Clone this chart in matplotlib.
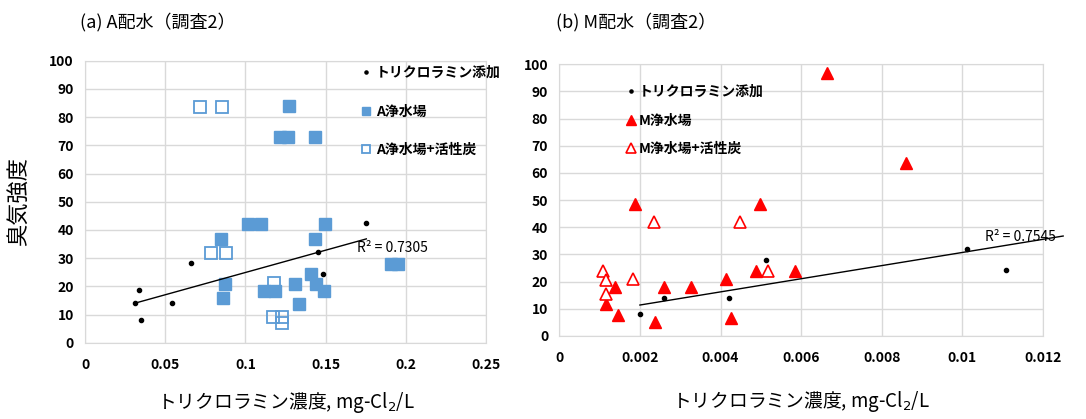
import numpy as np
import matplotlib
matplotlib.use("Agg")
from matplotlib import pyplot as plt

plt.rcParams['font.family'] = ['Noto Sans CJK JP', 'DejaVu Sans']

# (a) A配水 -- トリクロラミン濃度 / 臭気強度
a_add_x = [0.031, 0.0337, 0.0349, 0.054, 0.0663, 0.145, 0.1484, 0.1754]
a_add_y = [14.0, 18.6, 8.0, 14.0, 28.2, 32.0, 24.4, 42.4]
a_plant_x = [0.1274, 0.1216, 0.1264, 0.1432, 0.1014, 0.1097, 0.1498, 0.0848, 0.1432,
             0.1908, 0.195, 0.0875, 0.086, 0.1116, 0.1185, 0.1311, 0.1411, 0.1439,
             0.1492, 0.1336]
a_plant_y = [84.0, 73.0, 73.0, 73.0, 42.2, 42.2, 42.2, 36.7, 36.7,
             27.9, 27.9, 20.7, 15.7, 18.3, 18.3, 20.7, 24.2, 20.7,
             18.3, 13.7]
a_gac_x = [0.0719, 0.0856, 0.0788, 0.0877, 0.118, 0.1174, 0.1228, 0.1228]
a_gac_y = [83.7, 83.7, 31.7, 31.7, 21.1, 9.2, 9.2, 6.9]
a_trend = (158.0, 9.1)      # slope, intercept
a_trend_x = [0.031, 0.1754]
a_r2 = 0.7305

# (b) M配水
m_add_x = [0.002, 0.0026, 0.0042, 0.00514, 0.01012, 0.01107]
m_add_y = [8.1, 14.0, 14.0, 28.0, 31.9, 24.4]
m_plant_x = [0.00664, 0.00861, 0.00188, 0.00499, 0.00137, 0.00117, 0.00145,
             0.00237, 0.0026, 0.00326, 0.00414, 0.00426, 0.00489, 0.00584]
m_plant_y = [96.7, 63.6, 48.5, 48.5, 18.2, 11.8, 7.7,
             5.3, 18.2, 18.2, 20.9, 6.5, 24.0, 24.0]
m_gac_x = [0.00236, 0.00449, 0.00108, 0.00115, 0.00117, 0.00184, 0.00519]
m_gac_y = [42.1, 42.1, 24.0, 20.6, 15.3, 20.9, 24.0]
m_trend = (2419.0, 6.56)
m_trend_x = [0.002, 0.0125]
m_r2 = 0.7545

blue = '#5b9bd5'
red = '#ff0000'
grid = '#d9d9d9'

fig = plt.figure(figsize=(10.86, 4.19), dpi=100)
ax1 = fig.add_axes([0.0783, 0.1821, 0.3692, 0.673])
ax2 = fig.add_axes([0.515, 0.1981, 0.4454, 0.6484])


def style(ax, xmax, xstep, xticks_fmt):
    ax.set_ylim(0, 100)
    ax.set_xlim(0, xmax)
    ax.set_yticks(np.arange(0, 101, 10))
    xt = np.arange(0, xmax + xstep / 2, xstep)
    ax.set_xticks(xt)
    ax.set_xticklabels([xticks_fmt(v) for v in xt])
    ax.grid(True, color=grid, lw=1)
    ax.set_axisbelow(True)
    for s in ax.spines.values():
        s.set_color(grid)
    ax.tick_params(axis='x', length=0, labelsize=10, pad=11)
    ax.tick_params(axis='y', length=0, labelsize=10, pad=8)
    for lab in ax.get_xticklabels() + ax.get_yticklabels():
        lab.set_fontweight('bold')


def fmt(v):
    return '0' if v == 0 else ('%g' % round(v, 4))


# (a)
ax1.plot(a_add_x, a_add_y, 'o', color='black', ms=3, label='トリクロラミン添加', zorder=4)
ax1.plot(a_plant_x, a_plant_y, 's', color=blue, ms=8.5, label='A浄水場', zorder=3)
ax1.plot(a_gac_x, a_gac_y, 's', mfc='none', mec=blue, mew=1.3, ms=8.5,
         label='A浄水場+活性炭', zorder=3)
tx = np.array(a_trend_x)
ax1.plot(tx, a_trend[0] * tx + a_trend[1], color='black', lw=1, zorder=5)
ax1.text(0.1695, 33.5, 'R² = %.4f' % a_r2, fontsize=10, va='center', ha='left')
style(ax1, 0.25, 0.05, fmt)
ax1.set_xlabel('トリクロラミン濃度, mg-Cl$_2$/L', fontsize=13.5, labelpad=13)
ax1.set_ylabel('臭気強度', fontsize=16, labelpad=14)
fig.text(80 / 1086, 1 - 22 / 419, '(a) A配水（調査2）', fontsize=13, va='center')
ax1.legend(loc='upper left', bbox_to_anchor=(0.66, 1.025), frameon=False,
           handlelength=0.6, handletextpad=0.4, labelspacing=1.75, markerscale=0.75,
           prop={'size': 10, 'weight': 'bold'})

# (b)
ax2.plot(m_add_x, m_add_y, 'o', color='black', ms=3, label='トリクロラミン添加', zorder=4)
ax2.plot(m_plant_x, m_plant_y, '^', color=red, ms=9, label='M浄水場', zorder=3)
ax2.plot(m_gac_x, m_gac_y, '^', mfc='white', mec=red, mew=1.2, ms=9,
         label='M浄水場+活性炭', zorder=3)
tx = np.array(m_trend_x)
ax2.plot(tx, m_trend[0] * tx + m_trend[1], color='black', lw=1, zorder=5, clip_on=False)
ax2.text(0.01056, 36.3, 'R² = %.4f' % m_r2, fontsize=10, va='center', ha='left')
style(ax2, 0.012, 0.002, fmt)
ax2.set_xlabel('トリクロラミン濃度, mg-Cl$_2$/L', fontsize=13.5, labelpad=17)
fig.text(556 / 1086, 1 - 22 / 419, '(b) M配水（調査2）', fontsize=13, va='center')
ax2.legend(loc='upper left', bbox_to_anchor=(0.113, 0.97), frameon=False,
           handlelength=0.6, handletextpad=0.3, labelspacing=1.05, markerscale=0.75,
           prop={'size': 10, 'weight': 'bold'})

fig.savefig('out.png', dpi=100)
